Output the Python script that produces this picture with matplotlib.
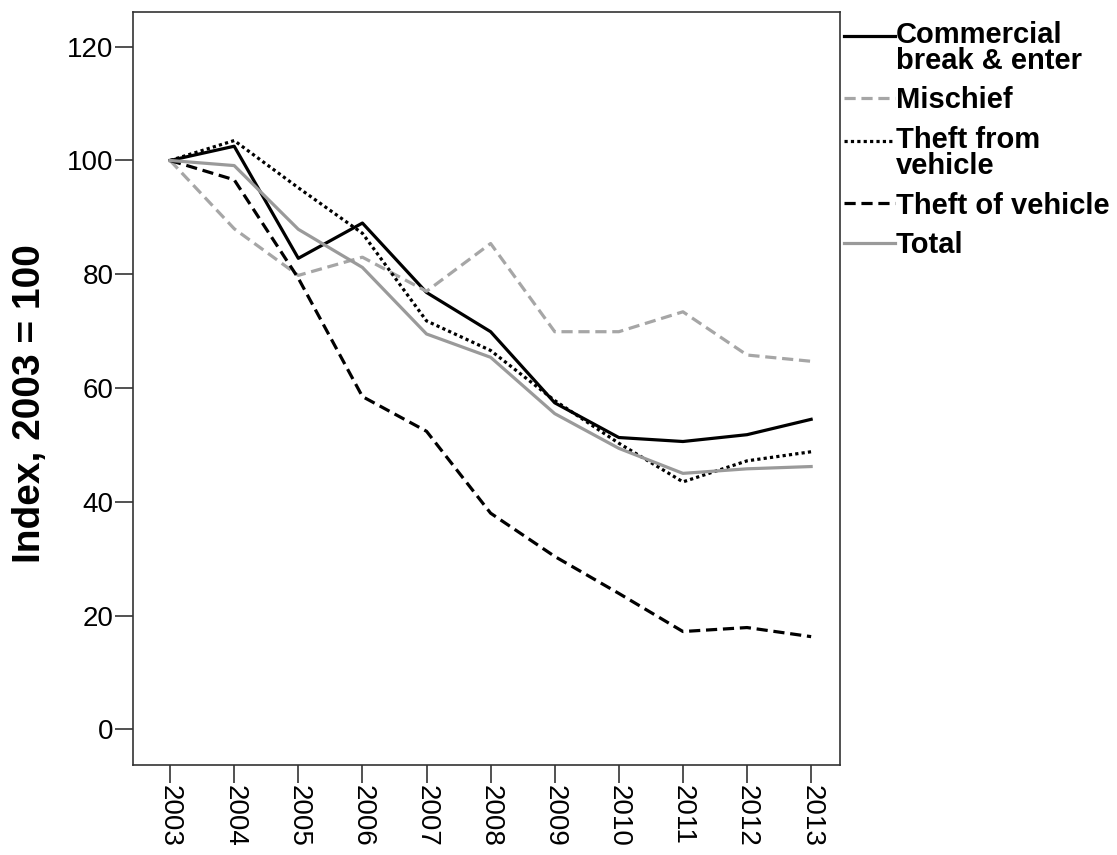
import matplotlib.pyplot as plt
import matplotlib

matplotlib.rcParams['font.family'] = ['Liberation Sans', 'DejaVu Sans']

years = [2003, 2004, 2005, 2006, 2007, 2008, 2009, 2010, 2011, 2012, 2013]
year_labels = [str(y) for y in years]

commercial_be = [100, 102.5, 82.8, 89.0, 76.8, 69.9, 57.4, 51.3, 50.6, 51.8, 54.5]
mischief = [100, 88.0, 79.8, 83.0, 77.0, 85.4, 69.9, 69.9, 73.4, 65.8, 64.7]
theft_from_vehicle = [100, 103.5, 95.2, 87.2, 71.8, 66.6, 57.8, 50.3, 43.5, 47.2, 48.8]
theft_of_vehicle = [100, 96.6, 79.3, 58.5, 52.4, 38.0, 30.4, 23.9, 17.2, 17.9, 16.3]
total = [100, 99.1, 87.9, 81.2, 69.5, 65.4, 55.5, 49.4, 45.0, 45.8, 46.2]

series = [
    ("Commercial\nbreak & enter", commercial_be, 'black', '-'),
    ("Mischief", mischief, '#a6a6a6', (0, (3.5, 1.8))),
    ("Theft from\nvehicle", theft_from_vehicle, 'black', (0, (1, 1))),
    ("Theft of vehicle", theft_of_vehicle, 'black', (0, (3.5, 1.8))),
    ("Total", total, '#9a9a9a', '-'),
]

fig = plt.figure(figsize=(11.17, 8.55), dpi=100)
ax = fig.add_axes([0.119, 0.105, 0.633, 0.881])

for label, vals, color, ls in series:
    ax.plot(years, vals, color=color, linestyle=ls, linewidth=2.3, label=label)

ax.set_xlim(2002.42, 2013.45)
ax.set_ylim(-6.3, 126.1)
ax.set_yticks([0, 20, 40, 60, 80, 100, 120])
ax.set_xticks(years)
ax.set_xticklabels(year_labels, rotation=270, va='top', ha='center')

for lab in ax.get_xticklabels() + ax.get_yticklabels():
    lab.set_fontsize(20)
    lab.set_color('black')

ax.tick_params(axis='both', direction='out', length=13, width=1.2, color='#333333', pad=1)
for sp in ax.spines.values():
    sp.set_linewidth(1.2)
    sp.set_color('#333333')

ax.set_ylabel('Index, 2003 = 100', fontsize=28, fontweight='bold')
ax.yaxis.set_label_coords(-0.12, 0.48)

leg = ax.legend(loc='upper left', bbox_to_anchor=(1.005, 0.988), frameon=False,
                handlelength=1.75, handletextpad=0.05, labelspacing=0.4,
                borderaxespad=0.0, borderpad=0.0,
                prop={'size': 21, 'weight': 'bold'})
for t in leg.get_texts():
    t.set_linespacing(0.9)
# put the key line of two-line entries level with the first line
for line, (label, _, _, _) in zip(leg.get_lines(), series):
    if '\n' in label:
        yd = line.get_ydata()
        line.set_ydata([v + 9 for v in yd])

plt.savefig('out.png', dpi=100)
